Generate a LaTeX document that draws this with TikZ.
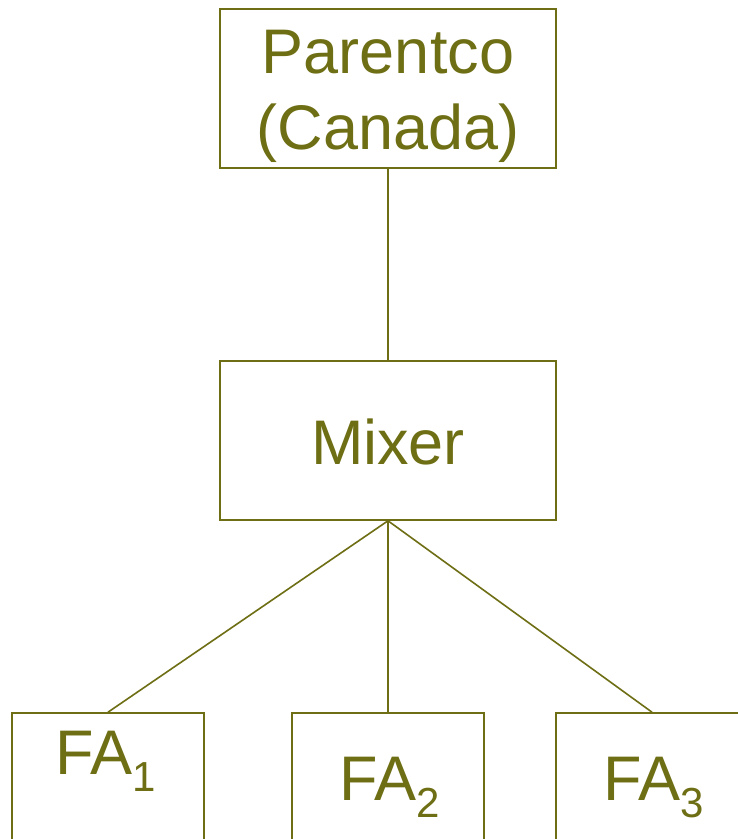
\documentclass[tikz,border=0pt]{standalone}
\usepackage{fontspec}
\setmainfont{Liberation Sans}
\definecolor{chartolive}{RGB}{110,110,20}
% lowered index digit after "FA"
\newcommand\faidx[1]{\raisebox{-17pt}{\fontsize{42}{42}\selectfont #1}}
\begin{document}
\begin{tikzpicture}[x=1pt,y=1pt,
  orgbox/.style={draw=chartolive, line width=1.6pt, minimum width=336pt,
    minimum height=159pt, inner sep=0pt},
  orgtext/.style={text=chartolive, font=\fontsize{63}{76}\selectfont,
    align=center, inner sep=0pt},
  fabox/.style={draw=chartolive, line width=1.6pt, minimum width=192pt,
    minimum height=159pt, inner sep=0pt},
  falabel/.style={text=chartolive, font=\fontsize{63}{76}\selectfont,
    inner sep=0pt, anchor=base},
  link/.style={draw=chartolive, line width=1.6pt}]
\useasboundingbox (0,0) rectangle (738,839);
\clip (0,0) rectangle (738,839);
\fill[white] (0,0) rectangle (738,839);

% upper two levels
\node[orgbox] (parent) at (388,750.5) {};
\node[orgtext] (parenttext) at (388,742.5) {Parentco\\(Canada)};
\node[orgbox] (mixer) at (388,398.5) {};
\node[orgtext, anchor=base] (mixertext) at (388,374) {Mixer};

% bottom row, running off the page
\node[fabox] (fa1) at (108,46.5) {};
\node[fabox] (fa2) at (388,46.5) {};
\node[fabox] (fa3) at (652,46.5) {};

\node[falabel] (fa1text) at (106,64) {FA\faidx{1}};
\node[falabel] (fa2text) at (390,38) {FA\faidx{2}};
\node[falabel] (fa3text) at (654,38) {FA\faidx{3}};

\draw[link] (parent.south) -- (mixer.north);
\draw[link] (mixer.south) -- (fa1.north);
\draw[link] (mixer.south) -- (fa2.north);
\draw[link] (mixer.south) -- (fa3.north);
\end{tikzpicture}
\end{document}
